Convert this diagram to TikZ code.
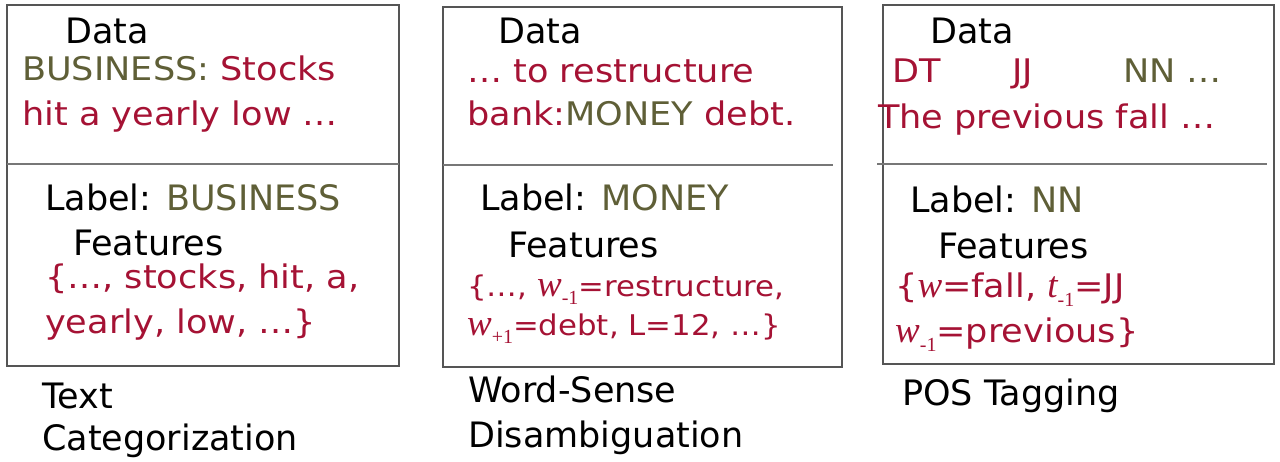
\documentclass[tikz,border=0pt]{standalone}
\usepackage{fontspec}
\setmainfont{DejaVu Sans}
\newfontfamily\wfont[FakeStretch=1.08]{DejaVu Sans}
\newfontfamily\serfont{Liberation Serif}
\definecolor{tred}{RGB}{165,18,52}
\definecolor{tolive}{RGB}{95,95,55}
\definecolor{boxgray}{RGB}{85,85,85}
\newcommand{\olv}[1]{\textcolor{tolive}{#1}}
\newcommand{\wsub}[2]{{\serfont\itshape\fontsize{37}{37}\selectfont #1}\raisebox{-0.3em}{\serfont\fontsize{20}{20}\selectfont #2}}
\tikzset{
  ttl/.style={anchor=base west, inner sep=0pt, font=\fontsize{35}{40}\selectfont, text=black},
  dtext/.style={anchor=base west, inner sep=0pt, font=\wfont\fontsize{32.5}{36}\selectfont, text=tred},
  panel/.style={draw=boxgray, line width=1.4pt, rectangle, inner sep=0pt},
  divline/.style={draw=boxgray!80, line width=1.4pt}
}
\begin{document}
\begin{tikzpicture}[x=1pt,y=-1pt]
\useasboundingbox (0,0) rectangle (1280,461);
% panels
\node[panel, minimum width=392pt, minimum height=361pt] (b1) at (203,185.5) {};
\node[panel, minimum width=399pt, minimum height=360pt] (b2) at (642.5,187) {};
\node[panel, minimum width=391pt, minimum height=359pt] (b3) at (1078.5,184.5) {};
\coordinate (d1a) at (7,164); \coordinate (d1b) at (399,164);
\coordinate (d2a) at (443,165); \coordinate (d2b) at (833,165);
\coordinate (d3a) at (877,164); \coordinate (d3b) at (1267,164);
\draw[divline] (d1a) -- (d1b);
\draw[divline] (d2a) -- (d2b);
\draw[divline] (d3a) -- (d3b);
% panel 1
\node[ttl] (t1data) at (65,43) {Data};
\node[dtext] (t1l1) at (22,80) {\olv{BUSINESS:} Stocks};
\node[dtext] (t1l2) at (22,125) {hit a yearly low …};
\node[ttl] (t1lab) at (45,210) {Label: \olv{BUSINESS}};
\node[ttl] (t1feat) at (73,255) {Features};
\node[dtext] (t1f1) at (45,288) {\{…, stocks, hit, a,};
\node[dtext] (t1f2) at (45,333) {yearly, low, …\}};
\node[ttl] (t1n1) at (42,408) {Text};
\node[ttl] (t1n2) at (42,450) {Categorization};
% panel 2
\node[ttl] (t2data) at (498,43) {Data};
\node[dtext] (t2l1) at (467,82) {… to restructure};
\node[dtext] (t2l2) at (467,125) {bank:\olv{MONEY} debt.};
\node[ttl] (t2lab) at (480,210) {Label: \olv{MONEY}};
\node[ttl] (t2feat) at (508,257) {Features};
\node[dtext, font=\wfont\fontsize{28.5}{32}\selectfont] (t2f1) at (467,296) {\{…, \wsub{w}{-1}=restructure,};
\node[dtext, font=\wfont\fontsize{28.5}{32}\selectfont] (t2f2) at (467,335) {\wsub{w}{+1}=debt, L=12, …\}};
\node[ttl] (t2n1) at (468,402) {Word-Sense};
\node[ttl] (t2n2) at (468,447) {Disambiguation};
% panel 3
\node[ttl] (t3data) at (930,43) {Data};
\node[dtext] (t3dt) at (892,82) {DT};
\node[dtext] (t3jj) at (1012,82) {JJ};
\node[dtext] (t3nn) at (1123,82) {\olv{NN …}};
\node[dtext] (t3l2) at (878,128) {The previous fall …};
\node[ttl] (t3lab) at (910,212) {Label: \olv{NN}};
\node[ttl] (t3feat) at (938,258) {Features};
\node[dtext] (t3f1) at (895,297) {\{\wsub{w}{}=fall, \wsub{t}{-1}=JJ};
\node[dtext] (t3f2) at (895,342) {\wsub{w}{-1}=previous\}};
\node[ttl] (t3n1) at (902,405) {POS Tagging};
\end{tikzpicture}
\end{document}
